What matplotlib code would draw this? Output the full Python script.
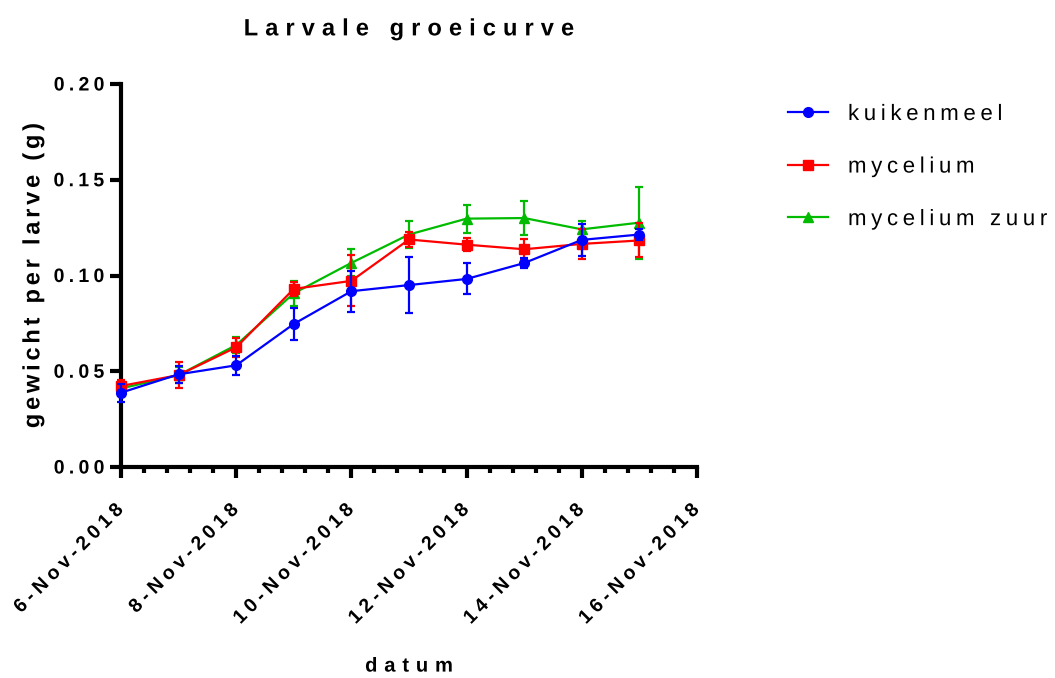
import matplotlib
matplotlib.use('Agg')
import matplotlib.pyplot as plt
import matplotlib.dates as mdates
from matplotlib.ticker import FixedLocator
from matplotlib.patheffects import AbstractPathEffect
from matplotlib.path import Path
import numpy as np
import pandas as pd

plt.rcParams['font.family'] = ['Liberation Sans', 'DejaVu Sans']

datum = ['2018-11-06', '2018-11-07', '2018-11-08', '2018-11-09', '2018-11-10',
         '2018-11-11', '2018-11-12', '2018-11-13', '2018-11-14', '2018-11-15']
kuikenmeel = [0.0388, 0.0484, 0.0531, 0.0747, 0.0918, 0.0950, 0.0982, 0.1065, 0.1186, 0.1214]
kuikenmeel_err = [0.0046, 0.0043, 0.0050, 0.0085, 0.0107, 0.0146, 0.0081, 0.0026, 0.0084, 0.0030]
mycelium = [0.0423, 0.0480, 0.0625, 0.0930, 0.0972, 0.1188, 0.1161, 0.1137, 0.1165, 0.1183]
mycelium_err = [0.0030, 0.0070, 0.0050, 0.0037, 0.0133, 0.0039, 0.0033, 0.0053, 0.0079, 0.0089]
mycelium_zuur = [0.0410, 0.0480, 0.0637, 0.0907, 0.1066, 0.1214, 0.1297, 0.1300, 0.1241, 0.1276]
mycelium_zuur_err = [0.0030, 0.0040, 0.0040, 0.0066, 0.0070, 0.0070, 0.0073, 0.0091, 0.0045, 0.0188]

tick_dates = ['2018-11-06', '2018-11-08', '2018-11-10', '2018-11-12', '2018-11-14', '2018-11-16']
tick_labels = ['6-Nov-2018', '8-Nov-2018', '10-Nov-2018', '12-Nov-2018', '14-Nov-2018', '16-Nov-2018']
y_ticks = [0.00, 0.05, 0.10, 0.15, 0.20]


class Tracking(AbstractPathEffect):
    """Letter spacing for a text: shifts each glyph of the text path."""

    def __init__(self, text, track, anchor=0.0):
        super().__init__()
        self.chars = [i for i, ch in enumerate(text) if not ch.isspace()]
        self.n = len(text) - 1
        self.track = track * 100  # text paths are 100 units per em
        self.anchor = anchor

    def draw_path(self, renderer, gc, tpath, affine, rgbFace=None):
        v = tpath.vertices.copy()
        c = tpath.codes
        if c is None or len(v) == 0:
            renderer.draw_path(gc, tpath, affine, rgbFace)
            return
        starts = list(np.where(c == Path.MOVETO)[0]) + [len(v)]
        groups = []
        g, lo, hi = -1, 0, 0
        for a, b in zip(starts[:-1], starts[1:]):
            xs = v[a:b][c[a:b] != Path.CLOSEPOLY, 0]
            if len(xs) == 0:
                continue
            cx = (xs.min() + xs.max()) / 2
            if g < 0 or not (lo <= cx <= hi):
                g += 1
                lo, hi = xs.min(), xs.max()
            else:
                lo, hi = min(lo, xs.min()), max(hi, xs.max())
            groups.append((a, b, g))
        same = (g + 1 == len(self.chars))
        ref = self.anchor * self.n * self.track
        for a, b, k in groups:
            idx = self.chars[k] if same else k
            v[a:b, 0] += idx * self.track - ref
        renderer.draw_path(gc, Path(v, c), affine, rgbFace)


def space_out(txt, track, anchor):
    txt.set_path_effects([Tracking(txt.get_text(), track, anchor)])


x = mdates.date2num(pd.to_datetime(datum))
xt = mdates.date2num(pd.to_datetime(tick_dates))

fig = plt.figure(figsize=(10.55, 6.78), dpi=100)
ax = fig.add_axes([121/1055, 1-467/678, 576/1055, 383/678])

series = [
    ('mycelium zuur', mycelium_zuur, mycelium_zuur_err, '#00BB00', '^', 2),
    ('mycelium', mycelium, mycelium_err, '#FF0000', 's', 3),
    ('kuikenmeel', kuikenmeel, kuikenmeel_err, '#0000FF', 'o', 4),
]
handles = {}
for name, y, err, col, mk, z in series:
    c = ax.errorbar(x, y, yerr=err, color=col, marker=mk, markersize=7 if mk != '^' else 7.5,
                    linewidth=1.6, elinewidth=1.6, capsize=3, capthick=1.6, zorder=z,
                    clip_on=False)
    handles[name] = c.lines[0]

ax.set_xlim(xt[0], xt[-1])
ax.set_ylim(0, 0.2)
ax.set_xticks(xt)
ax.set_xticklabels(tick_labels, rotation=45, ha='right', va='center',
                   rotation_mode='anchor', fontsize=14, fontweight='bold')
ax.xaxis.set_minor_locator(FixedLocator(np.arange(xt[0], xt[-1] + 0.01, 0.4)))
ax.set_yticks(y_ticks)
ax.set_yticklabels(['%.2f' % v for v in y_ticks], fontsize=14, fontweight='bold')

for s in ['top', 'right']:
    ax.spines[s].set_visible(False)
for s in ['left', 'bottom']:
    ax.spines[s].set_linewidth(3)
ax.tick_params(which='major', length=8, width=3, direction='out')
ax.tick_params(axis='x', which='major', pad=21)
ax.tick_params(axis='x', which='minor', length=4, width=3, direction='out')
ax.tick_params(axis='y', which='major', pad=4)

title = ax.set_title('Larvale groeicurve', fontsize=17, fontweight='bold', pad=35)
ylab = ax.set_ylabel('gewicht per larve (g)', fontsize=17, fontweight='bold')
ax.yaxis.set_label_coords(-0.133, 0.5)
xlab = ax.set_xlabel('datum', fontsize=14.5, fontweight='bold')
ax.xaxis.set_label_coords(0.5, -0.495)

order = ['kuikenmeel', 'mycelium', 'mycelium zuur']
leg = fig.legend([handles[n] for n in order], order, loc='upper left',
                 bbox_to_anchor=(768/1055, 1-84/678), frameon=False, fontsize=16,
                 handlelength=1.8, handletextpad=0.9, labelspacing=1.42)

space_out(title, 0.30, 0.5)
space_out(ylab, 0.16, 0.5)
space_out(xlab, 0.34, 0.5)
for t in ax.get_yticklabels():
    space_out(t, 0.22, 1.0)
for t in ax.get_xticklabels():
    space_out(t, 0.24, 1.0)
for t in leg.get_texts():
    space_out(t, 0.21, 0.0)

fig.savefig('out.png', dpi=100)
